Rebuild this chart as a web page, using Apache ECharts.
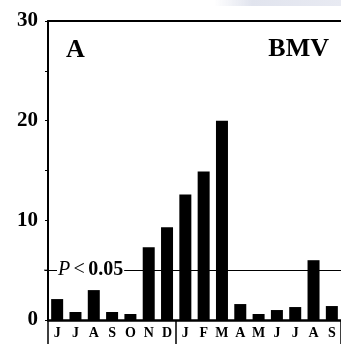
<!DOCTYPE html>
<html>
<head>
<meta charset="utf-8">
<script src="https://cdn.jsdelivr.net/npm/echarts@6/dist/echarts.min.js"></script>
<style>
  html, body { margin: 0; padding: 0; background: #fff; }
  #chart { width: 341px; height: 344px; }
</style>
</head>
<body>
<div id="chart"></div>
<script>
// Monthly counts, June through the following September
const months = ['J', 'J', 'A', 'S', 'O', 'N', 'D', 'J', 'F', 'M', 'A', 'M', 'J', 'J', 'A', 'S'];
const counts = [2.1, 0.8, 3.0, 0.8, 0.6, 7.3, 9.3, 12.6, 14.9, 20.0, 1.6, 0.6, 1.0, 1.3, 6.0, 1.4];
const yTicks = [0, 10, 20, 30];
const threshold = 5;      // significance level line
const yearBreak = 7;      // first month of the new year

const serif = 'Liberation Serif, Times New Roman, serif';
const chart = echarts.init(document.getElementById('chart'));

chart.setOption({
  animation: false,
  grid: { left: 48, top: 21, width: 294, height: 299 },
  xAxis: [
    {
      type: 'category',
      data: months,
      position: 'bottom',
      axisLine: { lineStyle: { color: '#000', width: 2.5 } },
      axisTick: {
        show: true,
        length: 24,
        interval: (i) => i === 0 || i === yearBreak,
        lineStyle: { color: '#000', width: 1.5 }
      },
      axisLabel: {
        color: '#000', fontFamily: serif, fontWeight: 'bold', fontSize: 14,
        margin: 6, interval: 0
      }
    },
    {
      type: 'category',
      data: months,
      position: 'top',
      axisLine: { lineStyle: { color: '#000', width: 2 } },
      axisTick: { show: false },
      axisLabel: { show: false }
    }
  ],
  yAxis: {
    type: 'value',
    min: yTicks[0],
    max: yTicks[yTicks.length - 1],
    interval: 10,
    axisLine: { show: true, lineStyle: { color: '#000', width: 2 } },
    axisTick: { show: true, length: 3, lineStyle: { color: '#000' } },
    minorTick: { show: true, splitNumber: 2, length: 3, lineStyle: { color: '#000' } },
    splitLine: { show: false },
    axisLabel: {
      color: '#000', fontFamily: serif, fontWeight: 'bold', fontSize: 21, margin: 10
    }
  },
  series: [{
    type: 'bar',
    data: counts,
    barWidth: 12,
    itemStyle: { color: '#000' },
    markLine: {
      silent: true,
      symbol: 'none',
      label: { show: false },
      lineStyle: { color: '#000', width: 1, type: 'solid' },
      data: [{ yAxis: threshold }]
    }
  }]
});

// Panel letters, significance label and the faint haze at the top edge
const lineY = chart.convertToPixel({ yAxisIndex: 0 }, threshold);
chart.setOption({
  graphic: [
    {
      type: 'rect',
      shape: { x: 214, y: 0, width: 127, height: 6 },
      style: {
        fill: new echarts.graphic.LinearGradient(0, 0, 1, 0, [
          { offset: 0, color: 'rgba(225,228,238,0)' },
          { offset: 0.3, color: 'rgba(225,228,238,1)' },
          { offset: 1, color: 'rgba(232,234,242,1)' }
        ])
      },
      z: 0
    },
    {
      type: 'line',
      shape: { x1: 44, y1: lineY, x2: 48, y2: lineY },
      style: { stroke: '#000', lineWidth: 1 }
    },
    {
      type: 'text',
      left: 66, top: 37,
      style: { text: 'A', font: 'bold 26px ' + serif, fill: '#000' }
    },
    {
      type: 'text',
      right: 12, top: 36,
      style: { text: 'BMV', font: 'bold 26px ' + serif, fill: '#000' }
    },
    {
      type: 'text',
      x: 57, y: lineY,
      z: 10,
      style: {
        text: '{p|P} {lt|<} {v|0.05}',
        verticalAlign: 'middle',
        backgroundColor: '#fff',
        padding: [0, 1, 0, 1],
        rich: {
          p: { font: 'italic 20px ' + serif, fill: '#000' },
          lt: { font: '20px ' + serif, fill: '#000' },
          v: { font: 'bold 20px ' + serif, fill: '#000' }
        }
      }
    }
  ]
});
</script>
</body>
</html>
